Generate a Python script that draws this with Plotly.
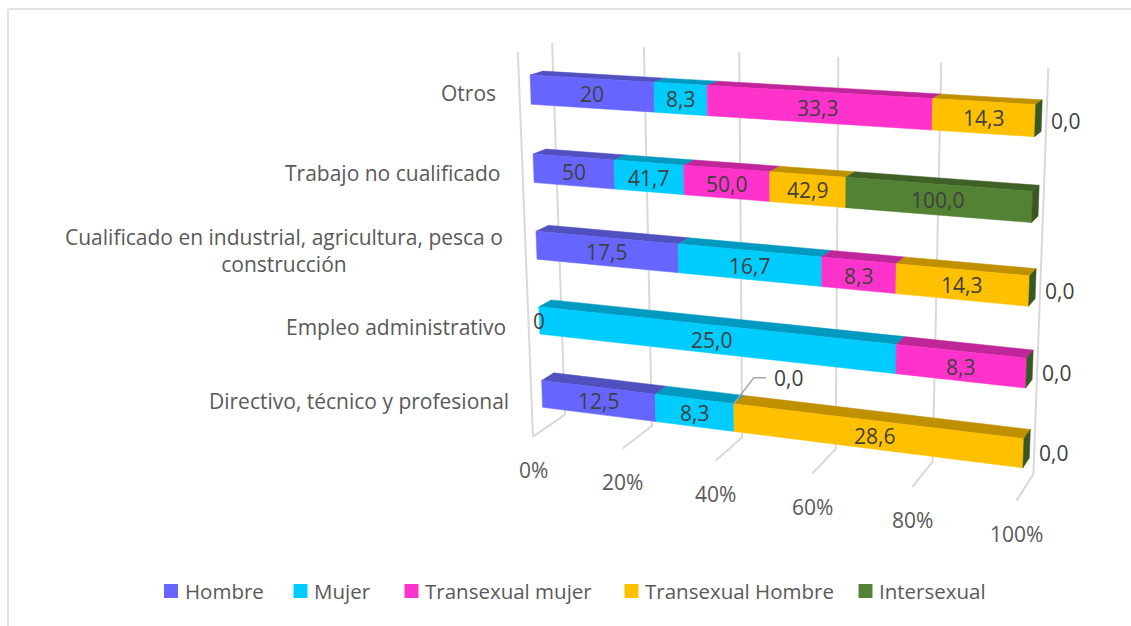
import numpy as np
import plotly.graph_objects as go

# ---------- data ----------
categories = ["Directivo, técnico y profesional", "Empleo administrativo",
              "Cualificado en industrial, agricultura, pesca o<br>construcción",
              "Trabajo no cualificado", "Otros"]
series_names = ["Hombre", "Mujer", "Transexual mujer", "Transexual Hombre", "Intersexual"]
hombre = [12.5, 0, 17.5, 50, 20]
mujer = [8.3, 25.0, 16.7, 41.7, 8.3]
trans_mujer = [0, 8.3, 8.3, 50.0, 33.3]
trans_hombre = [28.6, 0, 14.3, 42.9, 14.3]
intersexual = [0, 0, 0, 100.0, 0]
hombre_labels = ["12,5", "0", "17,5", "50", "20"]
mujer_labels = ["8,3", "25,0", "16,7", "41,7", "8,3"]
trans_mujer_labels = ["", "8,3", "8,3", "50,0", "33,3"]
trans_hombre_labels = ["28,6", "", "14,3", "42,9", "14,3"]
inter_labels = ["", "", "", "100,0", ""]
end_labels = ["0,0", "0,0", "0,0", "", "0,0"]
axis_ticks = [0, 0.2, 0.4, 0.6, 0.8, 1.0]
axis_labels = ["0%", "20%", "40%", "60%", "80%", "100%"]

front_colors = ["#6666FF", "#00CCFF", "#FF33CC", "#FFC000", "#548235"]
top_colors = ["#5050BF", "#0099BF", "#BF2699", "#BF9000", "#3F6128"]
cap_color = "#385723"
FONT = "Open Sans"

# ---------- camera: fits a projective view of the Excel 3-D box ----------
# (fraction along value axis, height, depth) -> image position
cam_model = []
cam_image = []
for t, a, b, c in zip(axis_ticks,
                      [(533, 436), (622, 449), (716, 461), (812, 473), (913, 487), (1016, 501)],
                      [(565, 415), (652, 426), (742, 437), (836, 448), (933, 462), (1033, 474)],
                      [(552, 43), (644, 47), (739, 52), (838, 57), (942, 63), (1048, 68)]):
    cam_model += [(t, 0, 0), (t, 0, 1), (t, 1, 1)]
    cam_image += [a, b, c]
cam_model.append((0, 1, 0))
cam_image.append((518, 52))

rows = []
for (X, Z, D), (u, v) in zip(cam_model, cam_image):
    rows.append([X, Z, D, 1, 0, 0, 0, 0, -u * X, -u * Z, -u * D, -u])
    rows.append([0, 0, 0, 0, X, Z, D, 1, -v * X, -v * Z, -v * D, -v])
P = np.linalg.svd(np.array(rows, float))[2][-1].reshape(3, 4)


def project(X, Z, D):
    h = P @ np.array([X, Z, D, 1.0])
    return float(h[0] / h[2]), float(h[1] / h[2])


# ---------- bar solid ----------
D0, D1 = 0.32, 0.70
BAR = 0.0735
Z_OFFSET = -0.002


def poly(pts):
    xs, ys = zip(*[project(*p) for p in pts])
    return list(xs) + [xs[0], None], list(ys) + [ys[0], None]


table = np.array([hombre, mujer, trans_mujer, trans_hombre, intersexual], float)
label_table = [hombre_labels, mujer_labels, trans_mujer_labels, trans_hombre_labels, inter_labels]
fractions = table / table.sum(axis=0)
cum = np.vstack([np.zeros(5), np.cumsum(fractions, axis=0)])
zc = [(i + 0.5) / 5 + Z_OFFSET for i in range(5)]

fig = go.Figure()

# gridlines
gx, gy = [], []
for t in axis_ticks:
    for p in [(t, 0, 0), (t, 0, 1), (t, 1, 1), None]:
        if p is None:
            gx.append(None); gy.append(None)
        else:
            a, b = project(*p)
            gx.append(a); gy.append(b)
for p in [(0, 0, 0), (0, 1, 0), None]:
    if p is None:
        gx.append(None); gy.append(None)
    else:
        a, b = project(*p)
        gx.append(a); gy.append(b)
fig.add_trace(go.Scatter(x=gx, y=gy, mode="lines", line=dict(color="#D9D9D9", width=2),
                         hoverinfo="skip", showlegend=False))

# faces
for s, name in enumerate(series_names):
    tx, ty, fx, fy = [], [], [], []
    for c in range(5):
        a, b = cum[s, c], cum[s + 1, c]
        if b - a <= 0:
            continue
        zt, zb = zc[c] + BAR / 2, zc[c] - BAR / 2
        x1, y1 = poly([(a, zt, D0), (b, zt, D0), (b, zt, D1), (a, zt, D1)])
        tx += x1; ty += y1
        x2, y2 = poly([(a, zb, D0), (b, zb, D0), (b, zt, D0), (a, zt, D0)])
        fx += x2; fy += y2
    fig.add_trace(go.Scatter(x=tx, y=ty, mode="lines", fill="toself", fillcolor=top_colors[s],
                             line=dict(width=0.5, color=top_colors[s]), hoverinfo="skip", showlegend=False))
    fig.add_trace(go.Scatter(x=fx, y=fy, mode="lines", fill="toself", fillcolor=front_colors[s],
                             line=dict(width=0.5, color=front_colors[s]), hoverinfo="skip", showlegend=False))

cx, cy = [], []
for c in range(5):
    zt, zb = zc[c] + BAR / 2, zc[c] - BAR / 2
    a, b = poly([(1, zb, D0), (1, zb, D1), (1, zt, D1), (1, zt, D0)])
    cx += a; cy += b
fig.add_trace(go.Scatter(x=cx, y=cy, mode="lines", fill="toself", fillcolor=cap_color,
                         line=dict(width=0.5, color=cap_color), hoverinfo="skip", showlegend=False))

# leader line for the zero label on the bottom bar
lx, ly = project(cum[2, 0], zc[0] + BAR / 2, D0)
fig.add_trace(go.Scatter(x=[lx, lx + 20, lx + 32], y=[ly, ly - 26, ly - 26], mode="lines",
                         line=dict(color="#A6A6A6", width=1.5), hoverinfo="skip", showlegend=False))

ann = []


def note(text, x, y, size=21, color="#404040", **kw):
    ann.append(dict(text=text, x=x, y=y, xref="x", yref="y", showarrow=False,
                    font=dict(family=FONT, size=size, color=color), **kw))


# legend row
legend_x = [171, 300.5, 411.5, 631.5, 865.5]
for s, name in enumerate(series_names):
    fig.add_trace(go.Scatter(x=[legend_x[s]], y=[591], mode="markers", name=name,
                             marker=dict(symbol="square", size=14, color=front_colors[s]),
                             hoverinfo="skip", showlegend=False))
    note(name, legend_x[s] + 11.5, 591, size=20.5, color="#595959", xanchor="left")

# data labels
for s in range(5):
    for c in range(5):
        txt = label_table[s][c]
        if txt:
            x, y = project((cum[s, c] + cum[s + 1, c]) / 2, zc[c], D0)
            note(txt, x, y + 0.5)
for c in range(5):
    if end_labels[c]:
        x, y = project(1, zc[c], D0)
        note(end_labels[c], x + 30, y)
note("0,0", lx + 55, ly - 26)

# category labels
for c, cat in enumerate(categories):
    x, y = project(0, zc[c], 0)
    note(cat, x - 21, y, size=21, color="#595959", xanchor="right", align="center")

# axis labels
for t, lab in zip(axis_ticks, axis_labels):
    x, y = project(t, 0, 0)
    note(lab, x, y + 33, size=21, color="#595959")

fig.update_layout(
    width=1131, height=626, margin=dict(l=0, r=0, t=0, b=0),
    paper_bgcolor="white", plot_bgcolor="white",
    xaxis=dict(range=[0, 1131], visible=False, fixedrange=True),
    yaxis=dict(range=[626, 0], visible=False, fixedrange=True),
    annotations=ann,
    showlegend=False,
    shapes=[
        dict(type="line", xref="x", yref="y", x0=8, x1=1131, y0=9, y1=9, line=dict(color="#D9D9D9", width=1.5)),
        dict(type="line", xref="x", yref="y", x0=8, x1=8, y0=9, y1=626, line=dict(color="#D9D9D9", width=1.5)),
    ],
)

fig.write_html("out.html", config={"displayModeBar": False},
               post_script="document.body.style.margin='0';")
